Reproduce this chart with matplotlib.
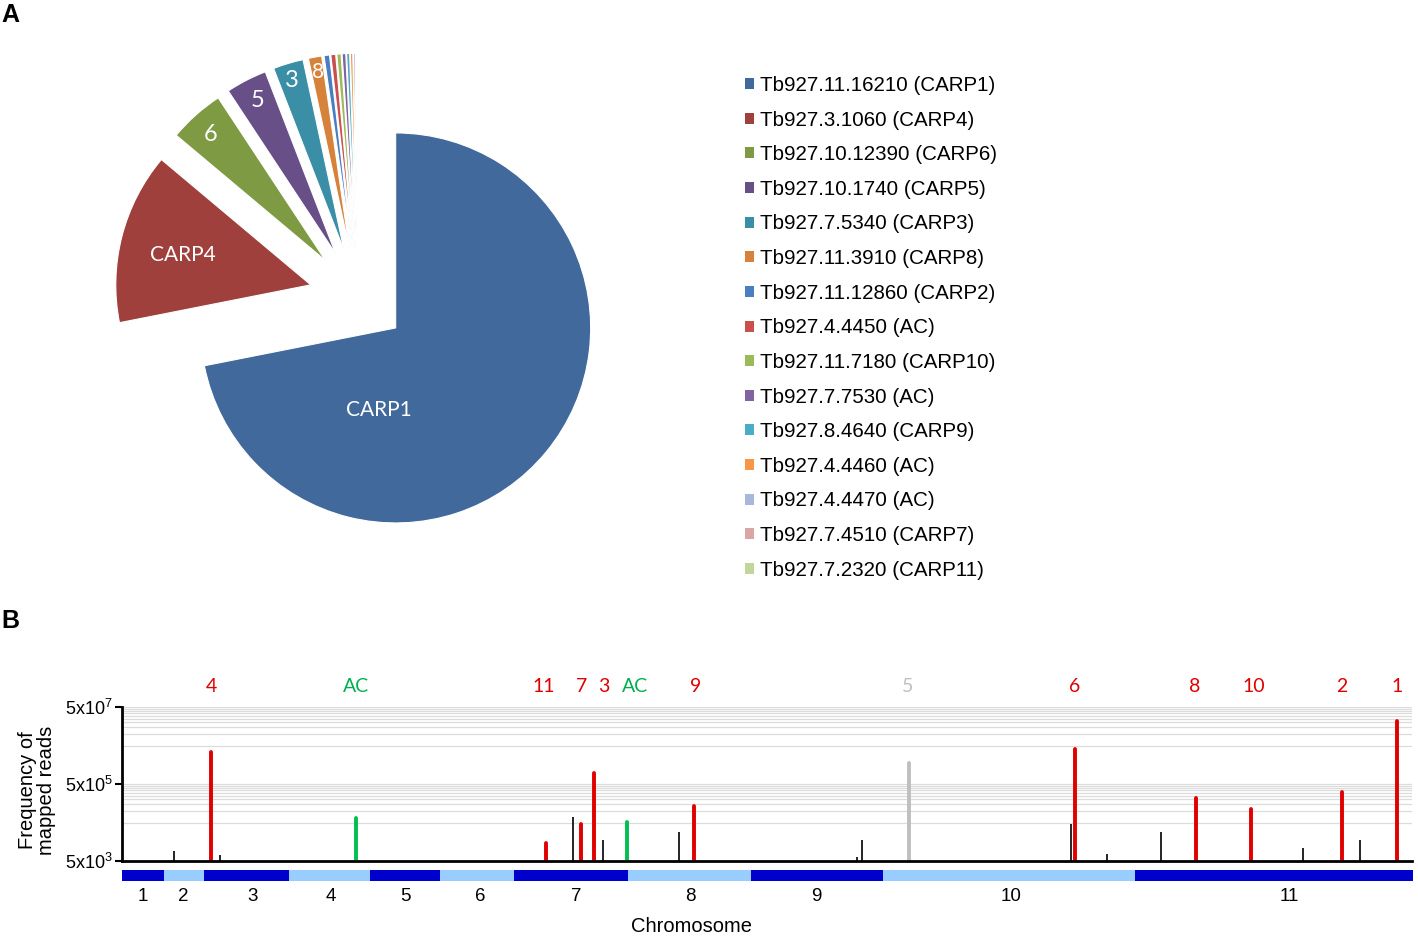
import matplotlib
matplotlib.use("Agg")
import matplotlib.pyplot as plt
import matplotlib.ticker as mticker
import matplotlib.transforms as mtrans
import numpy as np

plt.rcParams['font.family'] = ['Liberation Sans', 'DejaVu Sans']

# ---------------- Panel A data ----------------
genes = ["Tb927.11.16210 (CARP1)", "Tb927.3.1060 (CARP4)", "Tb927.10.12390 (CARP6)",
         "Tb927.10.1740 (CARP5)", "Tb927.7.5340 (CARP3)", "Tb927.11.3910 (CARP8)",
         "Tb927.11.12860 (CARP2)", "Tb927.4.4450 (AC)", "Tb927.11.7180 (CARP10)",
         "Tb927.7.7530 (AC)", "Tb927.8.4640 (CARP9)", "Tb927.4.4460 (AC)",
         "Tb927.4.4470 (AC)", "Tb927.7.4510 (CARP7)", "Tb927.7.2320 (CARP11)"]
shares = [71.8, 14.2, 4.6, 3.4, 2.5, 1.1, 0.45, 0.4, 0.35, 0.3, 0.25, 0.2, 0.15, 0.1, 0.07]
slice_labels = ["CARP1", "CARP4", "6", "5", "3", "8"]
pie_colors = ['#41699C', '#A0403D', '#7E9B44', '#684F88', '#3A8FA6', '#D7823A',
              '#4A7EC2', '#C8504D', '#9BBB59', '#8064A2', '#4BACC6', '#F79646',
              '#A9B8DA', '#DBA5A4', '#C2D69B']

# ---------------- Panel B data ----------------
chrom_names = ["1", "2", "3", "4", "5", "6", "7", "8", "9", "10", "11"]
chrom_lengths = [0.84, 0.80, 1.70, 1.62, 1.40, 1.48, 2.28, 2.46, 2.62, 5.04, 5.56]
chrom_label_pos = [0.42, 1.22, 2.60, 4.18, 5.66, 7.16, 9.08, 11.36, 13.88, 17.76, 23.32]

red_pos = [1.78, 8.47, 9.17, 9.43, 11.43, 19.05, 21.48, 22.57, 24.39, 25.49]
red_vals = [3.4e6, 1.5e4, 4.6e4, 9.9e5, 1.37e5, 4.0e6, 2.2e5, 1.1e5, 3.1e5, 2.2e7]
green_pos = [4.68, 10.10]
green_vals = [6.6e4, 5.2e4]
gray_pos = [15.73]
gray_vals = [1.8e6]
black_pos = [1.04, 1.96, 9.02, 9.62, 11.14, 14.69, 14.79, 18.97, 19.70, 20.78, 23.61, 24.75]
black_vals = [9e3, 7e3, 7e4, 1.8e4, 2.9e4, 6.3e3, 1.8e4, 4.5e4, 7.8e3, 2.8e4, 1.07e4, 1.8e4]

peak_labels = ["4", "AC", "11", "7", "3", "AC", "9", "5", "6", "8", "10", "2", "1"]
peak_label_pos = [1.78, 4.68, 8.44, 9.20, 9.64, 10.26, 11.48, 15.72, 19.06, 21.46, 22.64, 24.40, 25.50]
peak_label_colors = ['#E00000', '#00B050', '#E00000', '#E00000', '#E00000', '#00B050',
                     '#E00000', '#BFBFBF', '#E00000', '#E00000', '#E00000', '#E00000', '#E00000']

W, H = 1418, 949
fig = plt.figure(figsize=(W / 100, H / 100), dpi=100)

# ---------------- Panel A ----------------
R = 195
axp = fig.add_axes([0, 0, 1, 1])
wedges, _ = axp.pie(shares, colors=pie_colors, startangle=90, counterclock=False,
                    explode=[0.25 * R] * len(shares), radius=R, center=(358, H - 297),
                    wedgeprops=dict(edgecolor='white', linewidth=0.8))
axp.set_xlim(0, W)
axp.set_ylim(0, H)
axp.set_aspect('equal')
axp.axis('off')

label_xy = [(379, 410), (183, 255), (211, 134), (258, 100), (292, 80), (318, 72)]
label_fs = [15, 15, 17, 17, 17, 15]
for t, (x, y), fs in zip(slice_labels, label_xy, label_fs):
    axp.text(x, H - y, t, color='white', fontsize=fs, ha='center', va='center',
             family=['Lato', 'DejaVu Sans'])

leg = axp.legend(wedges, genes, loc='upper left', bbox_to_anchor=(745, H - 76),
                 bbox_transform=axp.transData, frameon=False, fontsize=14.8,
                 handlelength=0.45, handleheight=0.45, handletextpad=0.3,
                 labelspacing=0.76, borderpad=0, borderaxespad=0)
for h in leg.legend_handles:
    h.set_edgecolor('none')

fig.text(10 / W, 1 - 15 / H, "A", fontsize=18, fontweight='bold', ha='center', va='center')
fig.text(10 / W, 1 - 621 / H, "B", fontsize=18, fontweight='bold', ha='center', va='center')

# ---------------- Panel B ----------------
total = sum(chrom_lengths)
ax = fig.add_axes([122 / W, (H - 861) / H, 1290 / W, 154 / H])
ax.set_yscale('log')
ax.set_ylim(5e3, 5e7)
ax.set_xlim(0, total)
ax.set_yticks([5e3, 5e5, 5e7])
ax.set_yticklabels([r'$\mathregular{5x10^{3}}$', r'$\mathregular{5x10^{5}}$', r'$\mathregular{5x10^{7}}$'])
for lab in ax.get_yticklabels():
    lab.set_verticalalignment('center_baseline')
minor = [k * 5e4 for k in range(1, 10)] + [k * 5e6 for k in range(1, 10)]
ax.yaxis.set_minor_locator(mticker.FixedLocator(minor))
ax.yaxis.set_minor_formatter(mticker.NullFormatter())
ax.grid(True, axis='y', which='both', color='#DCDCDC', linewidth=0.9, zorder=0)
ax.set_axisbelow(True)
ax.tick_params(axis='y', which='major', length=5, width=1.5, labelsize=13, pad=2)
ax.tick_params(axis='y', which='minor', length=0)
ax.set_xticks([])
for s in ['top', 'right']:
    ax.spines[s].set_visible(False)
for s in ['left', 'bottom']:
    ax.spines[s].set_linewidth(2)
    ax.spines[s].set_zorder(5)

base = 5e3
ax.vlines(black_pos, base, black_vals, color='black', linewidth=1.2, zorder=3)
lc = ax.vlines(red_pos, base, red_vals, color='#E00000', linewidth=2.8, zorder=3)
lc.set_capstyle('round')
lc = ax.vlines(green_pos, base, green_vals, color='#00C050', linewidth=2.8, zorder=3)
lc.set_capstyle('round')
lc = ax.vlines(gray_pos, base, gray_vals, color='#BFBFBF', linewidth=2.8, zorder=3)
lc.set_capstyle('round')

ax.set_ylabel("Frequency of\nmapped reads", fontsize=14.5, linespacing=0.95)
ax.yaxis.set_label_coords(-0.0515, 0.46)

trans = mtrans.blended_transform_factory(ax.transData, fig.transFigure)
for t, x, c in zip(peak_labels, peak_label_pos, peak_label_colors):
    ax.text(x, (H - 686) / H, t, color=c, fontsize=14, ha='center', va='center',
            transform=trans, family=['Lato', 'DejaVu Sans'])

# chromosome bar
axc = fig.add_axes([122 / W, (H - 881) / H, 1291 / W, 11 / H])
starts = np.concatenate([[0], np.cumsum(chrom_lengths)[:-1]])
chrom_colors = ['#0000CC' if i % 2 == 0 else '#99CCFF' for i in range(len(chrom_lengths))]
axc.barh([0] * len(chrom_lengths), chrom_lengths, left=starts, height=1, color=chrom_colors)
axc.set_xlim(0, total)
axc.set_ylim(-0.5, 0.5)
axc.set_yticks([])
axc.set_xticks(chrom_label_pos)
axc.set_xticklabels(chrom_names)
axc.tick_params(axis='x', length=0, labelsize=13.5, pad=5)
for s in axc.spines.values():
    s.set_visible(False)

fig.text(691 / W, (H - 926) / H, "Chromosome", fontsize=14.5, ha='center', va='center')

fig.savefig("out.png", dpi=100)
